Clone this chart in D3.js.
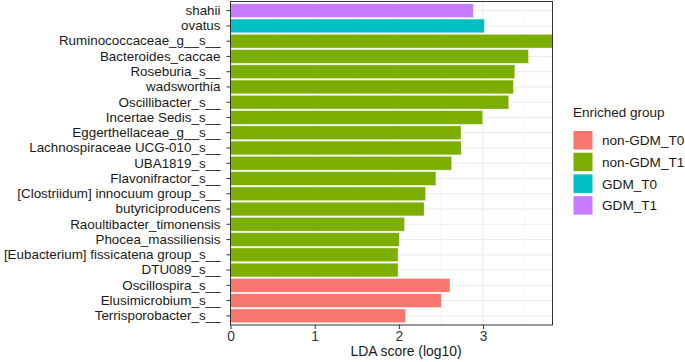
<!DOCTYPE html>
<html>
<head>
<meta charset="utf-8">
<script src="https://cdn.jsdelivr.net/npm/d3@7"></script>
<style>
  body { margin: 0; background: #fff; }
  text { font-family: "Liberation Sans", Arial, sans-serif; }
</style>
</head>
<body>
<div id="container"></div>
<script>
var width = 685;
var height = 362;

// taxa, top to bottom
var taxa = ["shahii", "ovatus", "Ruminococcaceae_g__s__", "Bacteroides_caccae", "Roseburia_s__",
  "wadsworthia", "Oscillibacter_s__", "Incertae Sedis_s__", "Eggerthellaceae_g__s__",
  "Lachnospiraceae UCG-010_s__", "UBA1819_s__", "Flavonifractor_s__", "[Clostriidum] innocuum group_s__",
  "butyriciproducens", "Raoultibacter_timonensis", "Phocea_massiliensis",
  "[Eubacterium] fissicatena group_s__", "DTU089_s__", "Oscillospira_s__", "Elusimicrobium_s__",
  "Terrisporobacter_s__"];
var groups = ["GDM_T1", "GDM_T0", "non-GDM_T1", "non-GDM_T1", "non-GDM_T1",
  "non-GDM_T1", "non-GDM_T1", "non-GDM_T1", "non-GDM_T1",
  "non-GDM_T1", "non-GDM_T1", "non-GDM_T1", "non-GDM_T1",
  "non-GDM_T1", "non-GDM_T1", "non-GDM_T1",
  "non-GDM_T1", "non-GDM_T1", "non-GDM_T0", "non-GDM_T0",
  "non-GDM_T0"];
var lda = [2.885, 3.016, 3.825, 3.54, 3.377,
  3.36, 3.305, 2.996, 2.738,
  2.74, 2.627, 2.44, 2.317,
  2.30, 2.067, 2.004,
  1.99, 1.99, 2.607, 2.504,
  2.08];
var legendGroups = ["non-GDM_T0", "non-GDM_T1", "GDM_T0", "GDM_T1"];
var groupColors = ["#F8766D", "#7CAE00", "#00BFC4", "#C77CFF"];
var xTicks = [0, 1, 2, 3];

var rows = taxa.map(function(t, i) { return { name: t, group: groups[i], value: lda[i] }; });

var panel = { left: 230.5, right: 552.5, top: 1.5, bottom: 325 };

const svg = d3.select("#container")
  .append("svg")
  .attr("width", width)
  .attr("height", height);

const x = d3.scaleLinear()
  .domain([0, 3.825])
  .range([panel.left, panel.right]);

const y = d3.scaleBand()
  .domain(taxa)
  .range([panel.top, panel.bottom])
  .paddingInner(0.1)
  .paddingOuter(0.15);

const color = d3.scaleOrdinal()
  .domain(legendGroups)
  .range(groupColors);

// panel background + grid
svg.append("rect")
  .attr("x", panel.left).attr("y", panel.top)
  .attr("width", panel.right - panel.left)
  .attr("height", panel.bottom - panel.top)
  .attr("fill", "#fff");

svg.selectAll(".minor")
  .data([0.5, 1.5, 2.5, 3.5])
  .enter().append("line")
  .attr("x1", d => x(d)).attr("x2", d => x(d))
  .attr("y1", panel.top).attr("y2", panel.bottom)
  .attr("stroke", "#F2F2F2").attr("stroke-width", 0.6);

svg.selectAll(".majorx")
  .data(xTicks)
  .enter().append("line")
  .attr("x1", d => x(d)).attr("x2", d => x(d))
  .attr("y1", panel.top).attr("y2", panel.bottom)
  .attr("stroke", "#EBEBEB").attr("stroke-width", 1);

svg.selectAll(".majory")
  .data(taxa)
  .enter().append("line")
  .attr("x1", panel.left).attr("x2", panel.right)
  .attr("y1", d => y(d) + y.bandwidth() / 2)
  .attr("y2", d => y(d) + y.bandwidth() / 2)
  .attr("stroke", "#EBEBEB").attr("stroke-width", 1);

// bars
svg.selectAll(".bar")
  .data(rows)
  .enter().append("rect")
  .attr("class", "bar")
  .attr("x", x(0))
  .attr("y", d => y(d.name))
  .attr("width", d => x(d.value) - x(0))
  .attr("height", y.bandwidth())
  .attr("fill", d => color(d.group))
  .attr("stroke", "#fff")
  .attr("stroke-opacity", 0.6)
  .attr("stroke-width", 0.6);

// panel border
svg.append("rect")
  .attr("x", panel.left).attr("y", panel.top)
  .attr("width", panel.right - panel.left)
  .attr("height", panel.bottom - panel.top)
  .attr("fill", "none")
  .attr("stroke", "#333333")
  .attr("stroke-width", 1);

// axes
const xAxis = svg.append("g")
  .attr("transform", `translate(0,${panel.bottom})`)
  .call(d3.axisBottom(x).tickValues(xTicks).tickSize(4).tickPadding(2).tickFormat(d3.format("d")));
xAxis.select(".domain").remove();
xAxis.selectAll("line").attr("stroke", "#333");
xAxis.selectAll("text")
  .attr("fill", "#333")
  .style("font-size", "13.8px");

const yAxis = svg.append("g")
  .attr("transform", `translate(${panel.left},0)`)
  .call(d3.axisLeft(y).tickSize(4).tickPadding(6));
yAxis.select(".domain").remove();
yAxis.selectAll("line").attr("stroke", "#333");
yAxis.selectAll("text")
  .attr("fill", "#1a1a1a")
  .style("font-size", "13.4px");

svg.append("text")
  .attr("x", 406)
  .attr("y", 356)
  .attr("text-anchor", "middle")
  .attr("fill", "#1a1a1a")
  .style("font-size", "13.9px")
  .text("LDA score (log10)");

// legend
const legend = svg.append("g").attr("transform", "translate(573,0)");
legend.append("text")
  .attr("x", 0).attr("y", 117)
  .style("font-size", "13.5px")
  .attr("fill", "#1a1a1a")
  .text("Enriched group");

const keys = legend.selectAll(".key")
  .data(legendGroups)
  .enter().append("g")
  .attr("transform", (d, i) => `translate(0,${130.5 + i * 21.7})`);
keys.append("rect")
  .attr("width", 20).attr("height", 19.5)
  .attr("fill", d => color(d))
  .attr("stroke", "#fff").attr("stroke-width", 1);
keys.append("text")
  .attr("x", 29).attr("y", 10)
  .attr("dy", "0.35em")
  .style("font-size", "13.6px")
  .attr("fill", "#1a1a1a")
  .text(d => d);
</script>
</body>
</html>
